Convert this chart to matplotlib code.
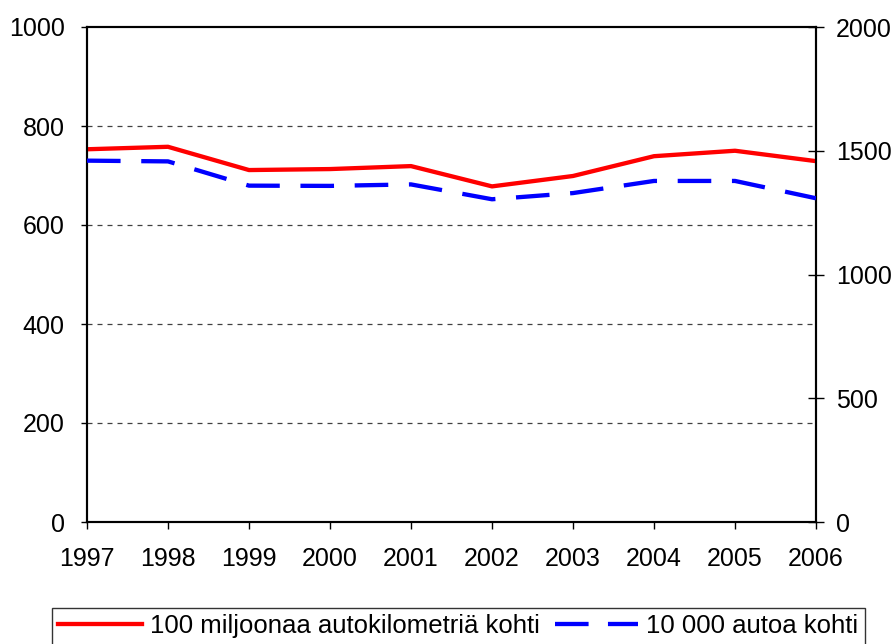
import matplotlib
matplotlib.use("Agg")
import matplotlib.pyplot as plt
from matplotlib.lines import Line2D

years = [1997, 1998, 1999, 2000, 2001, 2002, 2003, 2004, 2005, 2006]
per_km = [753, 758, 711, 713, 719, 678, 699, 739, 750, 729]
per_cars = [1460, 1457, 1359, 1358, 1364, 1304, 1329, 1378, 1378, 1308]
label_km = "100 miljoonaa autokilometriä kohti"
label_cars = "10 000 autoa kohti"

plt.rcParams['font.family'] = ['Liberation Sans', 'DejaVu Sans']

fig = plt.figure(figsize=(8.96, 6.44), dpi=100)
ax = fig.add_axes([87/896, 1-522/644, (816-87)/896, (522-27)/644])
ax2 = ax.twinx()

ax.plot(years, per_km, color='#ff0000', lw=3.1, zorder=3)
ax2.plot(years, per_cars, color='#0000ff', lw=3.1, dashes=(7.8, 4.8), zorder=3)

ax.set_xlim(1997, 2006)
ax.set_ylim(0, 1000)
ax2.set_ylim(0, 2000)
ax.set_xticks(years)
ax.set_yticks([0, 200, 400, 600, 800, 1000])
ax2.set_yticks([0, 500, 1000, 1500, 2000])

for y in [200, 400, 600, 800]:
    ax.axhline(y, color='#404040', lw=0.9, dashes=(4, 4), zorder=1)

fs = 18
ax.tick_params(axis='both', labelsize=fs, direction='out', width=1, colors='black')
ax.tick_params(axis='x', length=5, pad=13)
ax.tick_params(axis='y', length=4, pad=12)
ax2.tick_params(axis='y', labelsize=fs, direction='inout', length=11, width=1, pad=9)

for a in (ax, ax2):
    for s in a.spines.values():
        s.set_linewidth(1.5)
        s.set_color('black')

handles = [Line2D([], [], color='#ff0000', lw=3.1),
           Line2D([], [], color='#0000ff', lw=3.1, dashes=(7.8, 4.5))]
leg = fig.legend(handles, [label_km, label_cars], loc='upper left',
                 bbox_to_anchor=(52/896, 1-608/644), ncol=2, fontsize=18.5,
                 frameon=True, fancybox=False, edgecolor='black',
                 handlelength=3.25, handletextpad=0.3, columnspacing=0.6,
                 borderpad=0.25, borderaxespad=0)
leg.get_frame().set_linewidth(1.0)

fig.savefig('out.png', dpi=100)
